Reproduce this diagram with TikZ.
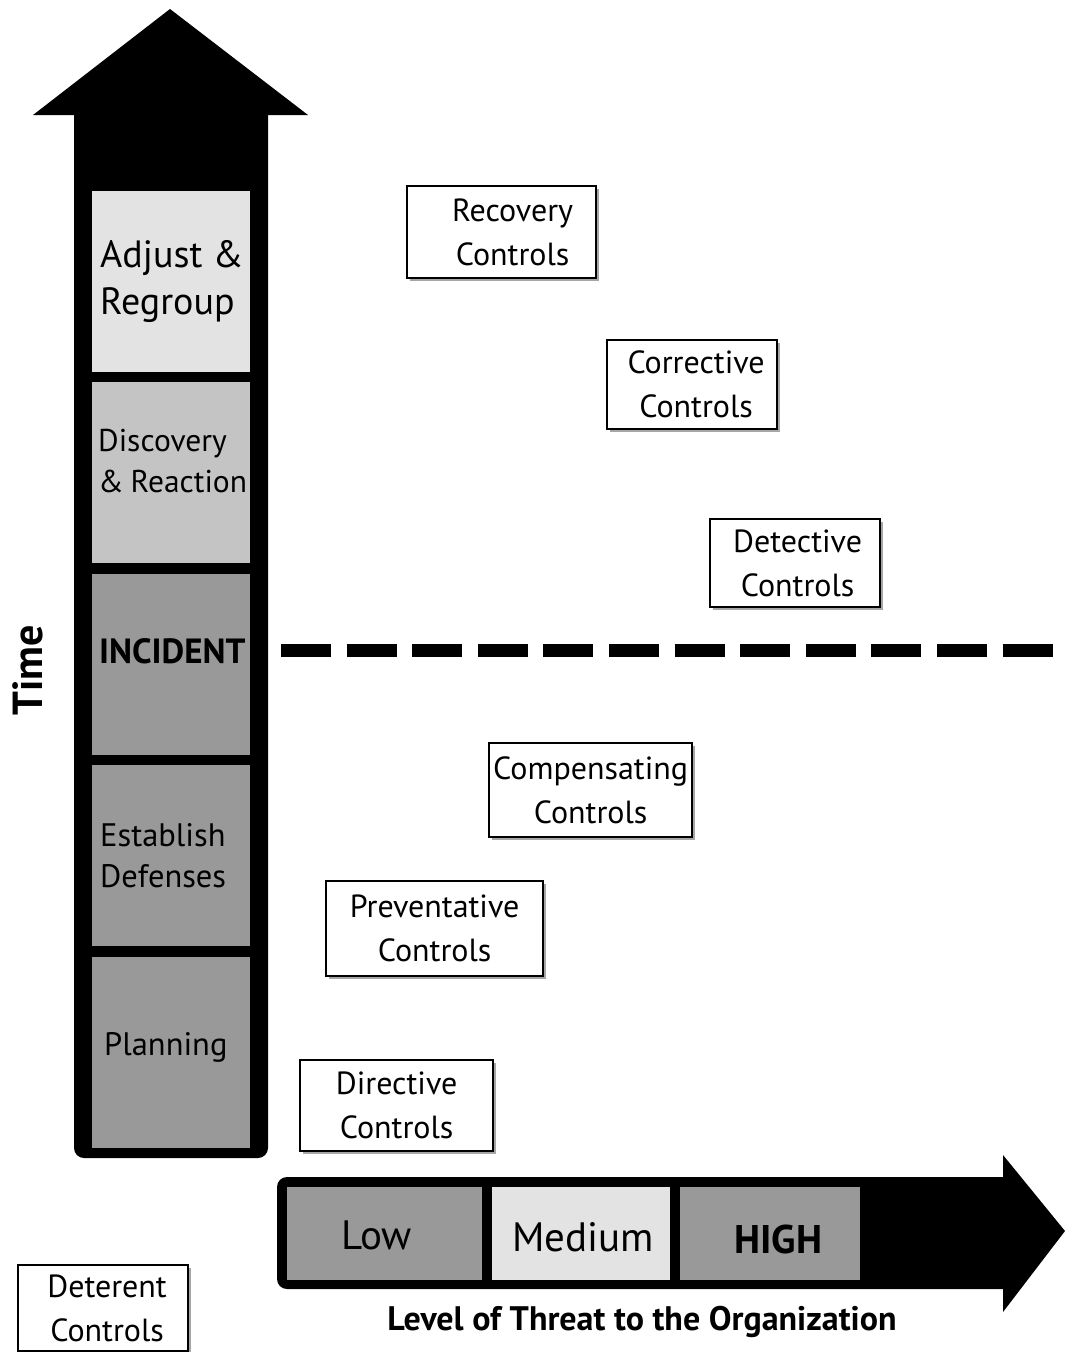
\documentclass[tikz,border=0pt]{standalone}
\usepackage{fontspec}
\setmainfont{PT Sans}
\usetikzlibrary{calc,shadows}
\definecolor{paleband}{HTML}{E3E3E3}
\definecolor{midband}{HTML}{C4C4C4}
\definecolor{darkband}{HTML}{999999}

\begin{document}
\begin{tikzpicture}[x=1pt,y=-1pt,
  band/.style={draw=none, inner sep=0pt, anchor=north west},
  stagetext/.style={inner sep=0pt, anchor=west, align=left,
    font=\fontsize{32.5}{41}\selectfont},
  leveltext/.style={inner sep=0pt, font=\fontsize{41}{48}\selectfont},
  ctrl/.style={draw, line width=2.2pt, fill=white, inner sep=0pt,
    anchor=north west, align=center, font=\fontsize{32}{44}\selectfont,
    drop shadow={shadow xshift=2.5pt, shadow yshift=-2.5pt,
      fill=black, opacity=0.35}},
]
\useasboundingbox (0,0) rectangle (1070,1352);

% ---- vertical time arrow ----
\fill[black, rounded corners=10pt] (74,100) rectangle (268,1158);
\fill[black] (33,115) -- (170,9) -- (308,115) -- cycle;

\node[band, fill=paleband, minimum width=158pt, minimum height=181pt] (adjust)   at (92,191) {};
\node[band, fill=midband,  minimum width=158pt, minimum height=181pt] (discover) at (92,382) {};
\node[band, fill=darkband, minimum width=158pt, minimum height=181pt] (incident) at (92,574) {};
\node[band, fill=darkband, minimum width=158pt, minimum height=181pt] (defenses) at (92,765) {};
\node[band, fill=darkband, minimum width=158pt, minimum height=191pt] (planning) at (92,957) {};

\node[stagetext, font=\fontsize{38}{47}\selectfont] (adjusttxt) at ($(adjust.west)+(8,0)$) {Adjust \&\\Regroup};
\node[stagetext, font=\fontsize{31.5}{41}\selectfont] (discovertxt) at ($(discover.west)+(6,-12)$) {Discovery\\\&\hspace{-1.5pt} Reaction};
\node[stagetext, font=\bfseries\fontsize{35}{40}\selectfont] (incidenttxt) at ($(incident.west)+(7,-13)$) {INCIDENT};
\node[stagetext] (defensestxt) at ($(defenses.west)+(8,0)$) {Establish\\Defenses};
\node[stagetext] (planningtxt) at ($(planning.west)+(12,-5)$) {Planning};

\node[rotate=90, inner sep=0pt, font=\bfseries\fontsize{42}{50}\selectfont] (time) at (28,670) {Time};

% ---- incident threshold ----
\coordinate (dstart) at (281,650.5);
\coordinate (dend) at (1053,650.5);
\draw[line width=13pt, dash pattern=on 50pt off 15.6pt] (dstart) -- (dend);

% ---- horizontal threat arrow ----
\fill[black, rounded corners=10pt] (277,1177) rectangle (1015,1289);
\fill[black] (1003,1155) -- (1065,1231) -- (1003,1312) -- cycle;

\node[band, fill=darkband, minimum width=195pt, minimum height=93pt] (low)  at (287,1187) {};
\node[band, fill=paleband, minimum width=178pt, minimum height=93pt] (med)  at (492,1187) {};
\node[band, fill=darkband, minimum width=180pt, minimum height=93pt] (high) at (680,1187) {};

\node[leveltext] (lowtxt)  at ($(low.center)+(-8,2)$) {Low};
\node[leveltext] (medtxt)  at ($(med.center)+(2,4)$) {Medium};
\node[leveltext, font=\bfseries\fontsize{40}{48}\selectfont] (hightxt) at ($(high.center)+(8,6)$) {HIGH};

\node[inner sep=0pt, font=\bfseries\fontsize{34}{40}\selectfont] (threat) at (642,1322) {Level of Threat to the Organization};

% ---- control categories ----
\node[ctrl, minimum width=189pt, minimum height=92pt] (recovery)     at (406,185)  {\hspace*{22pt}Recovery\\\hspace*{22pt}Controls};
\node[ctrl, minimum width=170pt, minimum height=89pt] (corrective)   at (606,339)  {\hspace*{8pt}Corrective\\\hspace*{8pt}Controls};
\node[ctrl, minimum width=170pt, minimum height=88pt] (detective)    at (709,518)  {\hspace*{5pt}Detective\\\hspace*{5pt}Controls};
\node[ctrl, minimum width=203pt, minimum height=94pt] (compensating) at (488,742)  {Compensating\\Controls};
\node[ctrl, minimum width=217pt, minimum height=95pt] (preventative) at (325,880)  {Preventative\\Controls};
\node[ctrl, minimum width=193pt, minimum height=91pt] (directive)    at (299,1059) {Directive\\Controls};
\node[ctrl, minimum width=170pt, minimum height=86pt] (deterent)     at (17,1264)  {\hspace*{8pt}Deterent\\\hspace*{8pt}Controls};
\end{tikzpicture}
\end{document}
